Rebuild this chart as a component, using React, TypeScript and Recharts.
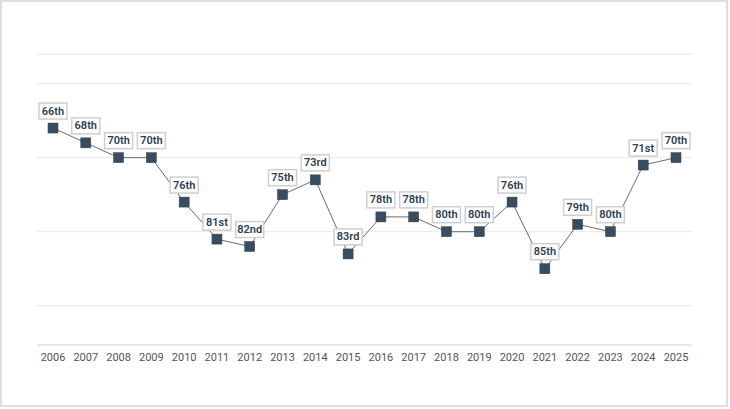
import React from "react";
import { CartesianGrid, LabelList, Line, LineChart, XAxis, YAxis } from "recharts";

// 연도별 순위
const years = [
  "2006", "2007", "2008", "2009", "2010", "2011", "2012", "2013", "2014", "2015",
  "2016", "2017", "2018", "2019", "2020", "2021", "2022", "2023", "2024", "2025",
];
const ranks = [66, 68, 70, 70, 76, 81, 82, 75, 73, 83, 78, 78, 80, 80, 76, 85, 79, 80, 71, 70];
const gridTicks = [56, 60, 70, 80, 90];

function ordinal(n: number) {
  const t = n % 100;
  if (t >= 11 && t <= 13) return n + "th";
  if (n % 10 === 1) return n + "st";
  if (n % 10 === 2) return n + "nd";
  if (n % 10 === 3) return n + "rd";
  return n + "th";
}

const data = years.map((y, i) => ({ year: y, rank: ranks[i] }));

type DotProps = { cx?: number; cy?: number };

function SquareDot({ cx, cy }: DotProps) {
  if (cx == null || cy == null) return null;
  return <rect x={cx - 5} y={cy - 5} width={10} height={10} fill="#394d61" stroke="#2c3e50" strokeWidth={0.5} />;
}

function RankLabel(props: any) {
  const { x, y, value } = props;
  if (x == null || y == null) return null;
  const w = 28;
  const h = 16;
  return (
    <g>
      <rect x={x - w / 2} y={y - 25} width={w} height={h} fill="#ffffff" stroke="#cfcfcf" strokeWidth={1.5} />
      <text
        x={x}
        y={y - 17}
        textAnchor="middle"
        dominantBaseline="central"
        fontSize={11}
        fontWeight={600}
        fill="#2c3e50"
        fontFamily="Roboto, sans-serif"
      >
        {ordinal(Number(value))}
      </text>
    </g>
  );
}

export default function App() {
  return (
    <div style={{ position: "relative", width: 730, height: 409, background: "#fff" }}>
      <style>{`body{margin:0}`}</style>
      <LineChart
        width={730}
        height={409}
        data={data}
        margin={{ top: 54, right: 38, bottom: 34, left: 37 }}
      >
        <CartesianGrid vertical={false} stroke="#e8e8e8" />
        <XAxis
          dataKey="year"
          height={30}
          padding={{ left: 16, right: 16 }}
          tickLine={false}
          axisLine={{ stroke: "#dddddd" }}
          tick={{ fontSize: 11, fill: "#555", fontFamily: "Roboto, sans-serif" }}
          interval={0}
        />
        <YAxis hide reversed domain={[56, 95.3]} ticks={gridTicks} />
        <Line
          dataKey="rank"
          stroke="#6b6b6b"
          strokeWidth={1}
          dot={<SquareDot />}
          activeDot={false}
          isAnimationActive={false}
        >
          <LabelList dataKey="rank" content={<RankLabel />} />
        </Line>
      </LineChart>
      <div
        style={{
          position: "absolute",
          left: 0,
          top: 0,
          width: 728,
          height: 407,
          border: "2px solid #dedede",
          boxSizing: "border-box",
          pointerEvents: "none",
        }}
      />
    </div>
  );
}
